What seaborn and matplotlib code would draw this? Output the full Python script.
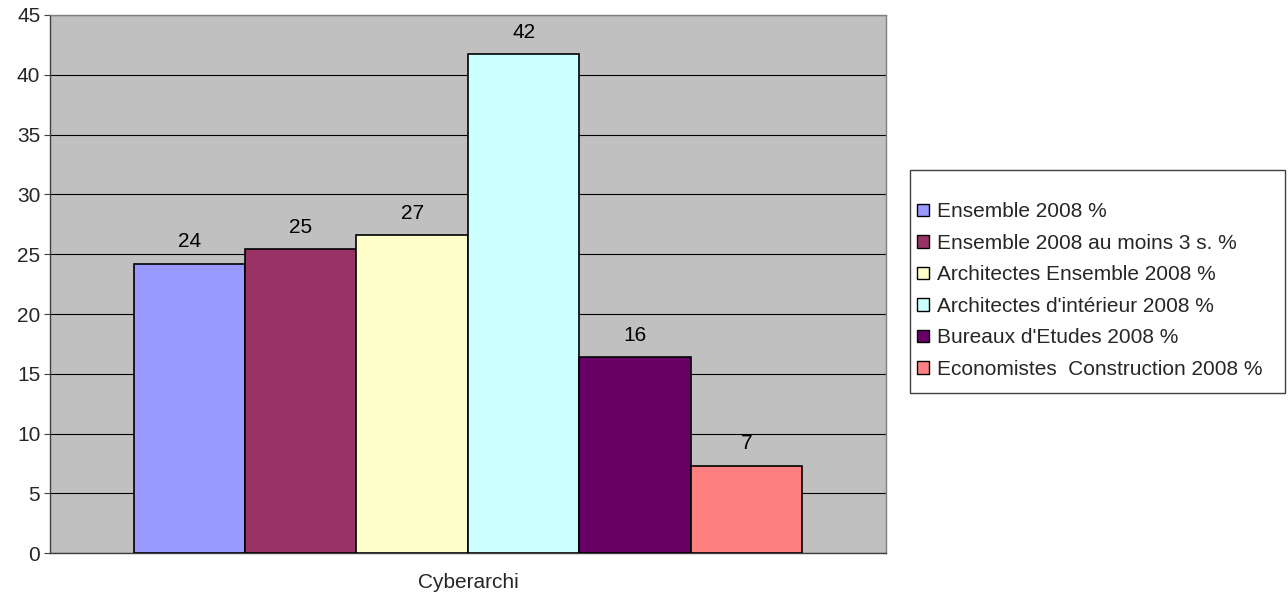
import pandas as pd
import matplotlib.pyplot as plt
import seaborn as sns
from matplotlib.patches import Rectangle

# --- Dados ---
categorie = ['Cyberarchi']
series = ['Ensemble 2008 %',
          'Ensemble 2008 au moins 3 s. %',
          'Architectes Ensemble 2008 %',
          "Architectes d'intérieur 2008 %",
          "Bureaux d'Etudes 2008 %",
          'Economistes  Construction 2008 %']
valeurs = [24.2, 25.4, 26.6, 41.7, 16.4, 7.3]
couleurs = ['#9999FF', '#993366', '#FFFFCC', '#CCFFFF', '#660066', '#FF8080']

df = pd.DataFrame({'cat': categorie * len(series), 'serie': series, 'val': valeurs})

sns.set_style('white')
plt.rcParams['font.family'] = ['Liberation Sans', 'DejaVu Sans']
fs = 15

fig = plt.figure(figsize=(12.88, 6), dpi=100)
ax = fig.add_axes([0.0388, 0.078, 0.649, 0.897])
ax.set_facecolor('#C0C0C0')

sns.barplot(data=df, x='cat', y='val', hue='serie', hue_order=series,
            palette=couleurs, width=0.8, edgecolor='black', linewidth=1.2,
            saturation=1, ax=ax, zorder=3)

for cont in ax.containers:
    ax.bar_label(cont, labels=[f'{v:.0f}' for v in cont.datavalues],
                 padding=9, fontsize=fs, color='black')

ax.set_ylim(0, 45)
ax.set_xlim(-0.5, 0.5)
ax.set_yticks(range(0, 46, 5))
ax.yaxis.grid(True, color='black', linewidth=0.8, zorder=0)
ax.set_axisbelow(True)
ax.set_xlabel('')
ax.set_ylabel('')
ax.set_xticks([0])
ax.set_xticklabels(['Cyberarchi'])
ax.set_xticks([-0.5, 0.5], minor=True)
ax.tick_params(axis='x', which='major', length=0, pad=14, labelsize=fs)
ax.tick_params(axis='x', which='minor', length=4, color='#404040', direction='out')
ax.tick_params(axis='y', length=4, color='#404040', direction='out', left=True,
               labelsize=fs, pad=3)

for s in ['left', 'bottom']:
    ax.spines[s].set_color('#404040')
    ax.spines[s].set_linewidth(1)
for s in ['top', 'right']:
    ax.spines[s].set_color('#808080')
    ax.spines[s].set_linewidth(1)

# cadre de la légende
fig.patches.append(Rectangle((0.7065, 0.345), 0.291, 0.372, transform=fig.transFigure,
                             facecolor='none', edgecolor='#404040', linewidth=1))

leg = ax.legend(loc='upper left', bbox_to_anchor=(0.712, 0.663),
                bbox_transform=fig.transFigure, frameon=False,
                fontsize=fs, handlelength=0.55, handleheight=0.55,
                handletextpad=0.4, labelspacing=0.6, borderpad=0,
                borderaxespad=0)
for h in leg.legend_handles:
    h.set_edgecolor('black')
    h.set_linewidth(1)

plt.savefig('out.png', dpi=100)
